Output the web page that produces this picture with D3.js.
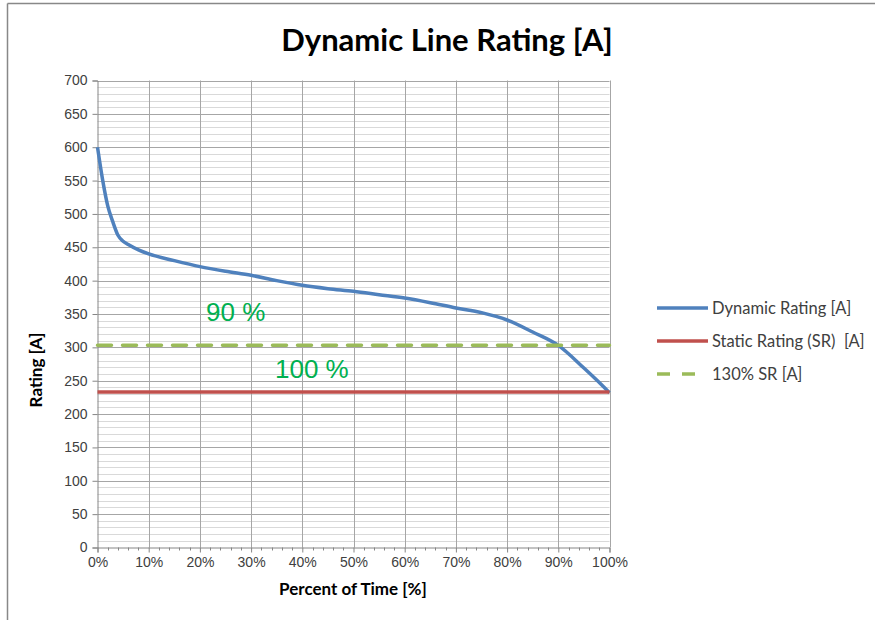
<!DOCTYPE html>
<html>
<head>
<meta charset="UTF-8">
<title>Dynamic Line Rating</title>
<style>
  body { margin: 0; background: #fff; }
  text { font-family: "Liberation Sans", Arial, sans-serif; }
  .cal { font-family: Lato, "Open Sans", sans-serif; white-space: pre; }
</style>
<script src="https://cdn.jsdelivr.net/npm/d3@7"></script>
</head>
<body>
<svg width="875" height="620"></svg>
<script>
// data
var pct = [0, 1, 2, 3, 4, 5, 6, 8, 10, 15, 20, 25, 30, 35, 40, 45, 50, 55, 60, 65, 70, 75, 80, 85, 90, 95, 97.5, 100];
var dynamic = [600, 551, 512, 488, 468, 459, 454, 446, 440, 430, 421, 414, 408, 400, 393, 388, 384, 379, 374, 367, 359, 352, 341, 323, 303, 269, 251, 232];
var staticRating = 233;
var sr130 = 303;
var yTicks = [0, 50, 100, 150, 200, 250, 300, 350, 400, 450, 500, 550, 600, 650, 700];
var xTicks = [0, 10, 20, 30, 40, 50, 60, 70, 80, 90, 100];
var legendNames = ["Dynamic Rating [A]", "Static Rating (SR)  [A]", "130% SR [A]"];
var colors = ["#4F81BD", "#C0504D", "#9BBB59"];

var svg = d3.select("svg");

// chart frame (only top and left edges visible)
svg.append("line").attr("x1", 7.5).attr("x2", 875).attr("y1", 3.5).attr("y2", 3.5)
   .attr("stroke", "#888").attr("stroke-width", 1.5);
svg.append("line").attr("x1", 7.5).attr("x2", 7.5).attr("y1", 3.5).attr("y2", 620)
   .attr("stroke", "#888").attr("stroke-width", 1.5);

var x = d3.scaleLinear().domain([0, 100]).range([97.5, 609.5]);
var y = d3.scaleLinear().domain([0, 700]).range([547.5, 80.5]);

var grid = svg.append("g");
// minor horizontal grid every 10
grid.selectAll(".minor").data(d3.range(10, 700, 10).filter(function(v){ return v % 50 != 0; }))
  .enter().append("line")
  .attr("x1", x(0)).attr("x2", x(100))
  .attr("y1", function(d){ return Math.round(y(d)) + 0.5; })
  .attr("y2", function(d){ return Math.round(y(d)) + 0.5; })
  .attr("stroke", "#d9d9d9");
// major horizontal grid
grid.selectAll(".major").data(yTicks.slice(1)).enter().append("line")
  .attr("x1", x(0)).attr("x2", x(100))
  .attr("y1", function(d){ return Math.round(y(d)) + 0.5; })
  .attr("y2", function(d){ return Math.round(y(d)) + 0.5; })
  .attr("stroke", "#a6a6a6");
// vertical grid
grid.selectAll(".vert").data(xTicks.slice(1)).enter().append("line")
  .attr("x1", function(d){ return Math.round(x(d)) + 0.5; })
  .attr("x2", function(d){ return Math.round(x(d)) + 0.5; })
  .attr("y1", y(0)).attr("y2", y(700))
  .attr("stroke", "#a6a6a6");

// axes
var yAxis = d3.axisLeft(y).tickValues(yTicks).tickSize(5).tickPadding(5);
var gy = svg.append("g").attr("transform", "translate(" + x(0) + ",0)").call(yAxis);
var xAxis = d3.axisBottom(x).tickValues(xTicks).tickSize(5).tickPadding(5)
  .tickFormat(function(d){ return d + "%"; });
var gx = svg.append("g").attr("transform", "translate(0," + y(0) + ")").call(xAxis);
// minor x ticks every 2%
gx.selectAll(".mt").data(d3.range(2, 100, 2).filter(function(v){ return v % 10 != 0; }))
  .enter().append("line").attr("class", "mt")
  .attr("x1", function(d){ return Math.round(x(d)) + 0.5; })
  .attr("x2", function(d){ return Math.round(x(d)) + 0.5; })
  .attr("y1", 0).attr("y2", 3).attr("stroke", "#868686");
[gx, gy].forEach(function(g){
  g.select(".domain").attr("stroke", "#868686");
  g.selectAll(".tick line").attr("stroke", "#868686");
  g.selectAll(".tick text").attr("fill", "#404040").style("font-size", "14px")
   .style("font-family", "'Liberation Sans', Arial, sans-serif");
});

// series
var line = d3.line().x(function(d){ return x(d[0]); }).y(function(d){ return y(d[1]); })
  .curve(d3.curveMonotoneX);
svg.append("path").datum(d3.zip(pct, dynamic)).attr("d", line)
  .attr("fill", "none").attr("stroke", colors[0]).attr("stroke-width", 3.5);
svg.append("line").attr("x1", x(0)).attr("x2", x(100))
  .attr("y1", y(staticRating)).attr("y2", y(staticRating))
  .attr("stroke", colors[1]).attr("stroke-width", 3.5);
svg.append("line").attr("x1", x(0)).attr("x2", x(100))
  .attr("y1", y(sr130)).attr("y2", y(sr130))
  .attr("stroke", colors[2]).attr("stroke-width", 3.5)
  .attr("stroke-dasharray", "14,11").attr("stroke-linecap", "round");

// annotations
svg.append("text").attr("x", 206).attr("y", 321).text("90 %")
  .attr("fill", "#00B050").style("font-size", "26px");
svg.append("text").attr("x", 275).attr("y", 378).text("100 %")
  .attr("fill", "#00B050").style("font-size", "26px");

// title and axis titles
svg.append("text").attr("class", "cal").attr("x", 447).attr("y", 51)
  .attr("text-anchor", "middle").style("font-size", "31px").style("font-weight", "bold")
  .text("Dynamic Line Rating [A]");
svg.append("text").attr("class", "cal").attr("x", 353).attr("y", 595)
  .attr("text-anchor", "middle").style("font-size", "17px").style("font-weight", "bold")
  .text("Percent of Time [%]");
svg.append("text").attr("class", "cal")
  .attr("transform", "translate(42,370) rotate(-90)")
  .attr("text-anchor", "middle").style("font-size", "17px").style("font-weight", "bold")
  .text("Rating [A]");

// legend
var leg = svg.append("g").selectAll("g").data(legendNames).enter().append("g")
  .attr("transform", function(d, i){ return "translate(657," + (308 + i * 33) + ")"; });
leg.append("line").attr("x1", 0).attr("x2", function(d, i){ return i == 2 ? 38 : 51; })
  .attr("stroke", function(d, i){ return colors[i]; }).attr("stroke-width", 3.5)
  .attr("stroke-dasharray", function(d, i){ return i == 2 ? "13,12" : null; });
leg.append("text").attr("class", "cal").attr("x", 55).attr("dy", "0.35em")
  .attr("fill", "#404040").style("font-size", "16.5px").text(function(d){ return d; });
</script>
</body>
</html>
